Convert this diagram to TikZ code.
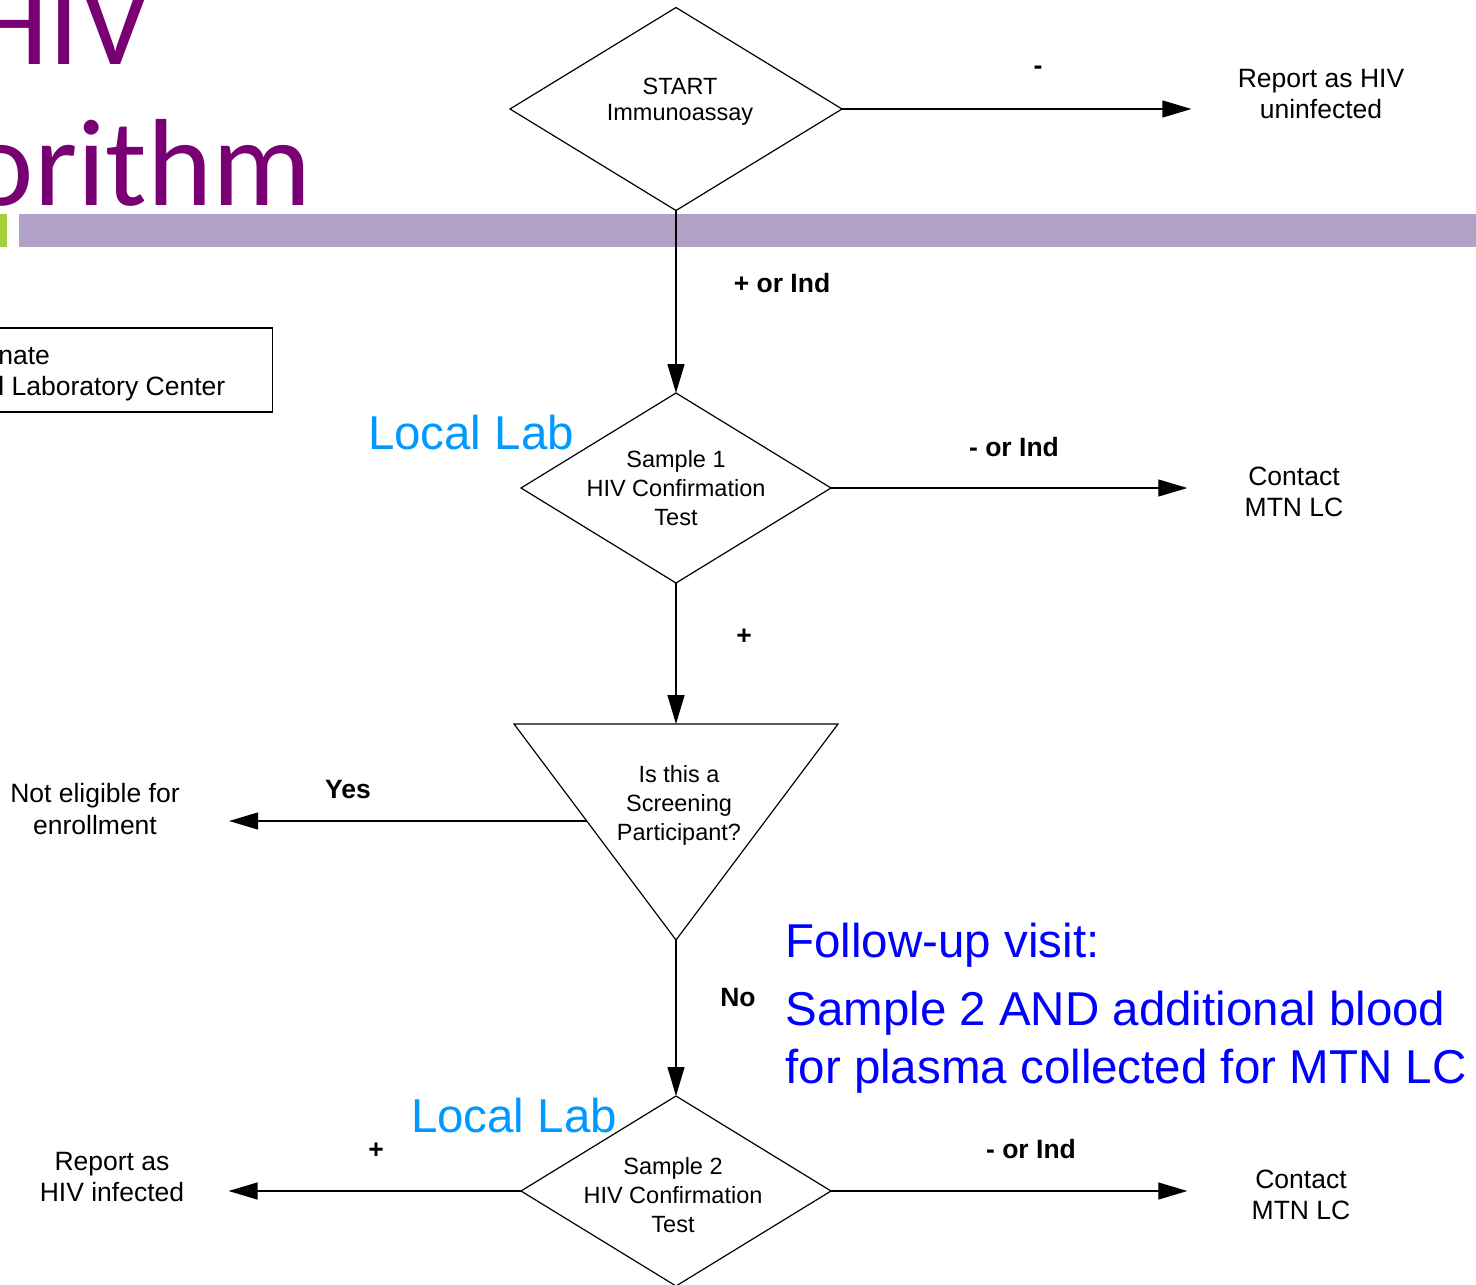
\documentclass[tikz,border=0pt]{standalone}
\usepackage{fontspec}
\setmainfont{Liberation Sans}
\newfontfamily\titlefont{Carlito}
\usetikzlibrary{arrows.meta,positioning,shapes.geometric}
\definecolor{titlepurple}{RGB}{120,0,115}
\definecolor{barlilac}{RGB}{178,162,199}
\definecolor{bargreen}{RGB}{166,206,57}
\definecolor{lablue}{RGB}{0,153,255}
\definecolor{noteblue}{RGB}{0,0,255}
\tikzset{
  decision/.style={diamond, draw, line width=0.6pt, inner sep=0pt, outer sep=0pt, aspect=1.63,
    minimum width=155pt, minimum height=95pt, align=center, font=\fontsize{11.75}{14.5}\selectfont},
  flow/.style={-{Triangle[length=14.5pt,width=8.5pt]}, line width=0.6pt},
  outcome/.style={inner sep=0pt, align=center, font=\fontsize{13.25}{15.75}\selectfont},
  answer/.style={inner sep=0pt, font=\bfseries\fontsize{13.25}{15.75}\selectfont},
  lablabel/.style={inner sep=0pt, text=lablue, font=\fontsize{23.75}{28}\selectfont},
  visitnote/.style={inner sep=0pt, text=noteblue, align=left, anchor=west, font=\fontsize{23.75}{29}\selectfont},
  headline/.style={inner sep=0pt, text=titlepurple, anchor=base east, font=\titlefont\fontsize{62}{70}\selectfont}
}

\begin{document}
\begin{tikzpicture}[x=0.5pt, y=-0.5pt]
    \useasboundingbox (0,0) rectangle (1476,1284);
    % slide header
    \fill[bargreen] (0,214) rectangle (7,247);
    \fill[barlilac] (19,214) rectangle (1476,247);
    \node[headline] (hivTitle) at (151,65) {HIV};
    \node[headline] (algTitle) at (312,205) {orithm};
    \node[draw, line width=0.6pt, inner sep=0pt, anchor=east, minimum width=150pt, minimum height=42pt] (lcBox) at (273,370) {};
    \node[outcome, align=left, anchor=west] (lcText) at (-2,374) {nate\\l Laboratory Center};

    % decisions and outcomes
    \node[decision, minimum width=166pt, minimum height=101.5pt] (start) at (676,109) {};
    \node[outcome, font=\fontsize{11.75}{13}\selectfont] (startText) at (680,102) {START\\Immunoassay};
    \node[outcome] (uninf) at (1321,94) {Report as HIV\\uninfected};
    \node[decision] (test1) at (676,488) {Sample 1\\HIV Confirmation\\Test};
    \node[outcome] (contact1) at (1294,492) {Contact\\MTN LC};
    \coordinate (qNW) at (514,724);
    \coordinate (qNE) at (838,724);
    \coordinate (qS) at (676,940);
    \coordinate (qN) at (676,724);
    \coordinate (qW) at (587,821);
    \node[outcome, font=\fontsize{11.75}{14.5}\selectfont] (qText) at (679,805) {Is this a\\Screening\\Participant?};
    \node[outcome] (notElig) at (95,809) {Not eligible for\\enrollment};
    \node[decision] (test2) at (676,1191) {};
    \node[outcome, font=\fontsize{11.75}{14.5}\selectfont] (test2Text) at (673,1195) {Sample 2\\HIV Confirmation\\Test};
    \node[outcome] (infected) at (112,1177) {Report as\\HIV infected};
    \node[outcome] (contact2) at (1301,1195) {Contact\\MTN LC};

    \node[lablabel] (lab1) at (471,433) {Local Lab};
    \node[lablabel] (lab2) at (514,1116) {Local Lab};
    \node[visitnote] (visit) at (785,945) {Follow-up visit:};
    \node[visitnote] (visitSample) at (785,1042) {Sample 2 AND additional blood\\for plasma collected for MTN LC};

    % connectors
    \draw[line width=0.6pt] (qNW) -- (qNE) -- (qS) -- cycle;
    \draw[flow, shorten >=23pt] (start.east) -- (start.east -| uninf.west);
    \draw[flow] (start.south) -- (test1.north);
    \draw[flow, shorten >=28.5pt] (test1.east) -- (test1.east -| contact1.west);
    \draw[flow] (test1.south) -- (qN);
    \draw[flow, shorten >=24.5pt] (qW) -- (qW -| notElig.east);
    \draw[flow] (qS) -- (test2.north);
    \draw[flow, shorten >=22pt] (test2.west) -- (test2.west -| infected.east);
    \draw[flow, shorten >=32pt] (test2.east) -- (test2.east -| contact2.west);

    \node[answer] (negStart) at (1038,70) {-};
    \node[answer] (posStart) at (782,283) {+ or Ind};
    \node[answer] (negTest1) at (1014,447) {- or Ind};
    \node[answer] (posTest1) at (744,637) {+};
    \node[answer] (yesScreen) at (348,790) {Yes};
    \node[answer] (noScreen) at (738,997) {No};
    \node[answer] (posTest2) at (376,1151) {+};
    \node[answer] (negTest2) at (1031,1149) {- or Ind};
\end{tikzpicture}
\end{document}
